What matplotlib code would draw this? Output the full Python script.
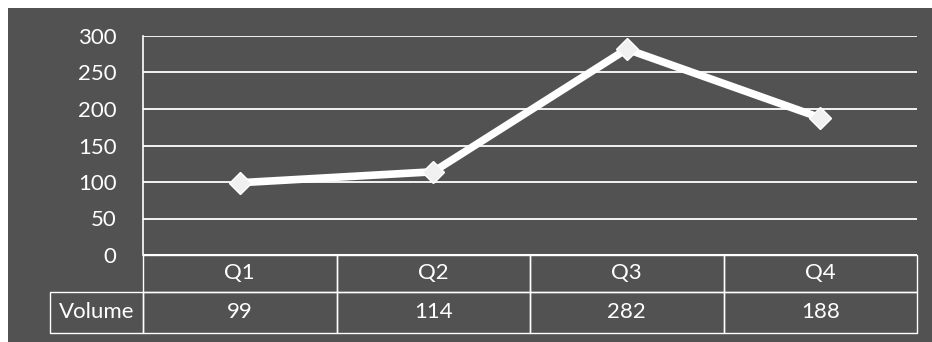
import matplotlib
matplotlib.use("Agg")
import matplotlib.pyplot as plt
from matplotlib.patches import Rectangle
from matplotlib.transforms import blended_transform_factory

quarters = ["Q1", "Q2", "Q3", "Q4"]
volume = [99, 114, 282, 188]
row_label = "Volume"
yticks = [0, 50, 100, 150, 200, 250, 300]

W, H = 932, 342
BG = "#525252"
plt.rcParams["font.family"] = ["Lato", "DejaVu Sans"]

fig = plt.figure(figsize=(W / 100, H / 100), dpi=100, facecolor="white")
fig.patches.append(Rectangle((8 / W, 0), 1 - 8 / W, 1 - 8 / H, transform=fig.transFigure,
                             facecolor=BG, edgecolor="none", zorder=-10))

L, R, T, B = 143, 917, 36, 255
ax = fig.add_axes([L / W, 1 - B / H, (R - L) / W, (B - T) / H])
ax.set_zorder(1)
ax.set_facecolor("none")
x = list(range(len(quarters)))
ax.set_xlim(-0.5, len(quarters) - 0.5)
ax.set_ylim(0, 300)
ax.set_yticks(yticks)
ax.set_yticklabels([str(v) for v in yticks], color="white", fontsize=16)
ax.tick_params(axis="y", length=0, pad=19)
ax.set_xticks([])
ax.grid(axis="y", color="white", linewidth=1.3)
ax.set_axisbelow(True)
for s in ["top", "right", "bottom"]:
    ax.spines[s].set_visible(False)
ax.spines["left"].set_color("white")
ax.spines["left"].set_linewidth(1.2)

ax.plot(x, volume, color="white", linewidth=5.5, marker="D", markersize=11,
        markerfacecolor="#f0f0f0", markeredgecolor="white", zorder=3, clip_on=False)

# data table below the axis (x in data units, y in axes fraction)
tr = blended_transform_factory(ax.transData, ax.transAxes)
ph = B - T
r1_top, r1_bot, r2_bot = 0.0, -(292 - B) / ph, -(333 - B) / ph
lab_w = 93 / ((R - L) / len(quarters))
cell_kw = dict(transform=tr, facecolor="none", edgecolor="white", linewidth=1.0,
               clip_on=False, zorder=4)
txt_kw = dict(transform=tr, color="white", fontsize=16, ha="center", va="center",
              clip_on=False, zorder=5)
for i, (q, v) in enumerate(zip(quarters, volume)):
    ax.add_patch(Rectangle((i - 0.5, r1_bot), 1, r1_top - r1_bot, **cell_kw))
    ax.add_patch(Rectangle((i - 0.5, r2_bot), 1, r1_bot - r2_bot, **cell_kw))
    ax.text(i, (r1_top + r1_bot) / 2, q, **txt_kw)
    ax.text(i, (r1_bot + r2_bot) / 2, str(v), **txt_kw)
ax.add_patch(Rectangle((-0.5 - lab_w, r2_bot), lab_w, r1_bot - r2_bot, **cell_kw))
ax.text(-0.5 - lab_w / 2, (r1_bot + r2_bot) / 2, row_label, **txt_kw)
ax.axhline(0, color="white", linewidth=2.2, zorder=4)

fig.savefig("out.png", dpi=100, facecolor="white")
